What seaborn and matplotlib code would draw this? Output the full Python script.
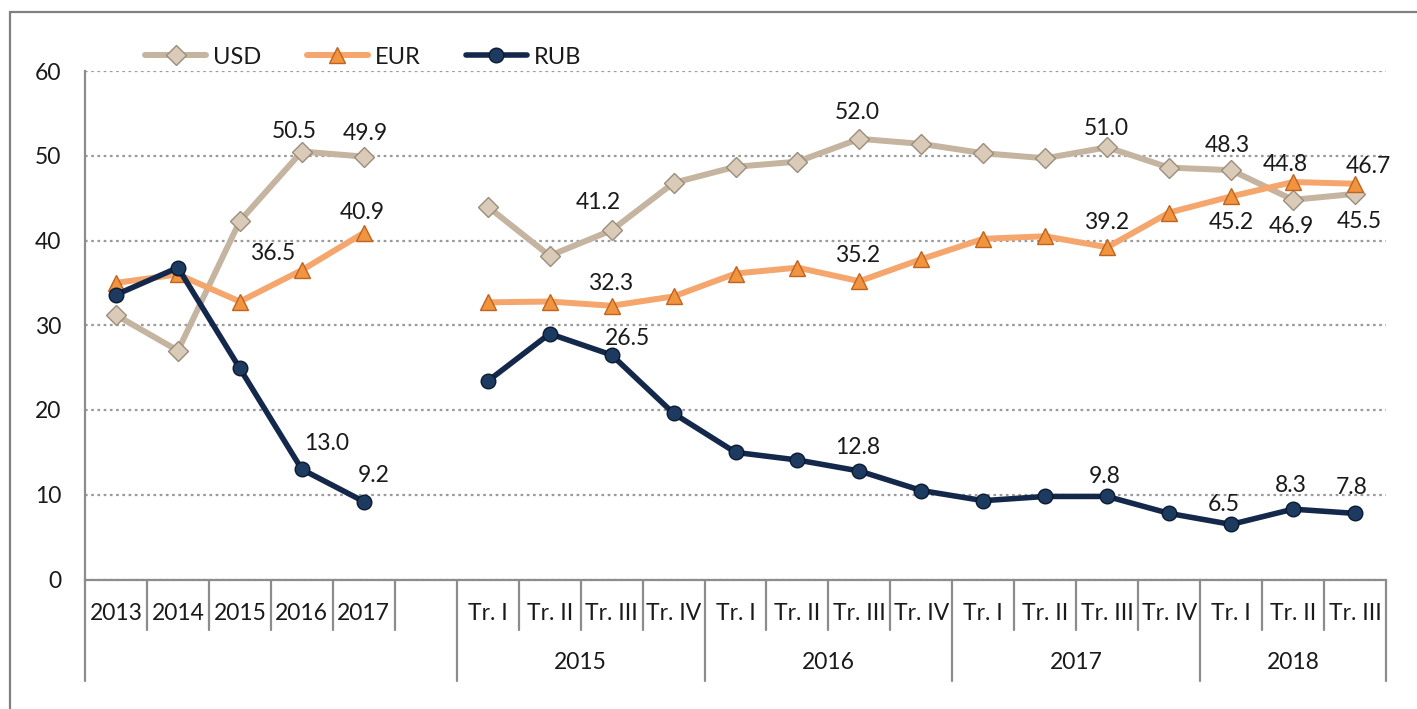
import matplotlib
matplotlib.use("Agg")
import matplotlib.pyplot as plt
import matplotlib.transforms as mtransforms
from matplotlib.lines import Line2D
from matplotlib.patches import Rectangle
import pandas as pd
import seaborn as sns

# categories
annual_labels = ["2013", "2014", "2015", "2016", "2017"]
quarter_labels = ["Tr. I", "Tr. II", "Tr. III", "Tr. IV"] * 3 + ["Tr. I", "Tr. II", "Tr. III"]
quarter_years = ["2015", "2016", "2017", "2018"]
currencies = ["USD", "EUR", "RUB"]

# values (%)
usd_annual = [31.2, 27.0, 42.3, 50.5, 49.9]
eur_annual = [35.0, 36.0, 32.8, 36.5, 40.9]
rub_annual = [33.6, 36.8, 24.9, 13.0, 9.2]

usd_quarter = [44.0, 38.2, 41.2, 46.8, 48.7, 49.3, 52.0, 51.4, 50.3, 49.7, 51.0, 48.6, 48.3, 44.8, 45.5]
eur_quarter = [32.7, 32.8, 32.3, 33.4, 36.1, 36.8, 35.2, 37.8, 40.2, 40.5, 39.2, 43.3, 45.2, 46.9, 46.7]
rub_quarter = [23.4, 29.0, 26.5, 19.6, 15.0, 14.1, 12.8, 10.5, 9.3, 9.8, 9.8, 7.8, 6.5, 8.3, 7.8]

series = {
    "USD": (usd_annual, usd_quarter),
    "EUR": (eur_annual, eur_quarter),
    "RUB": (rub_annual, rub_quarter),
}

# build long table: one empty slot between the annual and quarterly blocks
rows = []
for cur in currencies:
    ann, qtr = series[cur]
    for i, v in enumerate(ann):
        rows.append({"pos": i, "value": v, "currency": cur, "segment": "annual"})
    for i, v in enumerate(qtr):
        rows.append({"pos": len(annual_labels) + 1 + i, "value": v, "currency": cur, "segment": "quarter"})
df = pd.DataFrame(rows)

styles = {
    "USD": dict(color="#c4b4a0", lw=4.3, marker="D", markersize=10.5,
                markerfacecolor="#d9cbb7", markeredgecolor="#9b8d7b", markeredgewidth=1.0),
    "EUR": dict(color="#f5a66c", lw=4.3, marker="^", markersize=12,
                markerfacecolor="#f09440", markeredgecolor="#c0631f", markeredgewidth=1.0),
    "RUB": dict(color="#13284a", lw=4.0, marker="o", markersize=10.5,
                markerfacecolor="#1d3a60", markeredgecolor="#0c1a30", markeredgewidth=1.0),
}

# data labels: (currency, position, dx px, dy px)
labels = [
    ("USD", 3, -8, 20), ("USD", 4, 2, 23), ("EUR", 4, -2, 20), ("EUR", 3, -29, 17),
    ("RUB", 3, 25, 26), ("RUB", 4, 10, 26),
    ("USD", 8, -13, 28), ("EUR", 8, -1, 22), ("RUB", 8, 16, 16),
    ("USD", 12, -2, 26), ("EUR", 12, -2, 26), ("RUB", 12, -2, 24),
    ("USD", 16, -1, 19), ("EUR", 16, -1, 25), ("RUB", 16, -3, 20),
    ("USD", 18, -4, 25), ("EUR", 18, 0, -26), ("RUB", 18, -7, 20),
    ("USD", 19, -8, 35), ("EUR", 19, -2, -44), ("RUB", 19, -2, 24),
    ("EUR", 20, 13, 17), ("USD", 20, 4, -28), ("RUB", 20, -3, 26),
]

sns.set_theme(style="white")
plt.rcParams["font.family"] = ["Lato", "DejaVu Sans"]
text_color = "#1a1a1a"
gray = "#8c8c8c"
fs = 16.5

W, H = 1417, 709
fig = plt.figure(figsize=(W / 100, H / 100), dpi=100)
ax = fig.add_axes([85 / W, (H - 579.5) / H, (1386 - 85) / W, (579.5 - 71) / H])

for cur in currencies:
    for seg in ["annual", "quarter"]:
        sub = df[(df.currency == cur) & (df.segment == seg)]
        sns.lineplot(data=sub, x="pos", y="value", ax=ax, estimator=None,
                     legend=False, zorder=3, **styles[cur])

lookup = df.set_index(["currency", "pos"])["value"]
for cur, pos, dx, dy in labels:
    v = lookup[(cur, pos)]
    ax.annotate(f"{v:.1f}", (pos, v), xytext=(dx, dy), textcoords="offset pixels",
                ha="center", va="center", fontsize=fs, color=text_color, zorder=5)

n_cat = len(annual_labels) + 1 + len(quarter_labels)
ax.set_xlim(-0.5, n_cat - 0.5)
ax.set_ylim(0, 60)
ax.set_yticks(range(0, 61, 10))
ax.tick_params(axis="y", length=6, width=1.5, color=gray, pad=11, labelsize=fs, labelcolor=text_color)
ax.set_xticks([])
ax.set_xlabel("")
ax.set_ylabel("")
ax.yaxis.grid(True, linestyle=(0, (1.2, 1.6)), linewidth=1.6, color="#9a9a9a")
ax.set_axisbelow(True)
for s in ["top", "right"]:
    ax.spines[s].set_visible(False)
for s in ["left", "bottom"]:
    ax.spines[s].set_color(gray)
    ax.spines[s].set_linewidth(1.6)

# category axis drawn below the plot
trans = mtransforms.blended_transform_factory(ax.transData, ax.transAxes)
row1_y, row2_y = -0.066, -0.164
short_y, long_y = -0.099, -0.2
cat_labels = annual_labels + [""] + quarter_labels
for i, lab in enumerate(cat_labels):
    if lab:
        ax.text(i, row1_y, lab, transform=trans, ha="center", va="center",
                fontsize=fs, color=text_color)
long_edges = [-0.5, 5.5, 9.5, 13.5, 17.5, n_cat - 0.5]
for k in range(n_cat + 1):
    x = k - 0.5
    y_end = long_y if x in long_edges else short_y
    ax.plot([x, x], [0, y_end], transform=trans, color=gray, lw=1.6, clip_on=False)
year_centers = [7.5, 11.5, 15.5, 19]
for yr, xc in zip(quarter_years, year_centers):
    ax.text(xc, row2_y, yr, transform=trans, ha="center", va="center",
            fontsize=fs, color=text_color)

# legend
handles = [Line2D([], [], **styles[c]) for c in currencies]
fig.legend(handles, currencies, loc="center left", bbox_to_anchor=(145 / W, 1 - 57 / H),
           ncol=3, frameon=False, fontsize=17, handlelength=2.6, handletextpad=0.3,
           columnspacing=1.9, borderpad=0, borderaxespad=0, labelcolor=text_color)

# outer frame (cropped on the right and bottom)
fig.patches.append(Rectangle((10 / W, -0.2), 1.2, 1 - 12 / H + 0.2, transform=fig.transFigure,
                             fill=False, edgecolor="#808080", lw=1.6))

fig.savefig("out.png", dpi=100)
